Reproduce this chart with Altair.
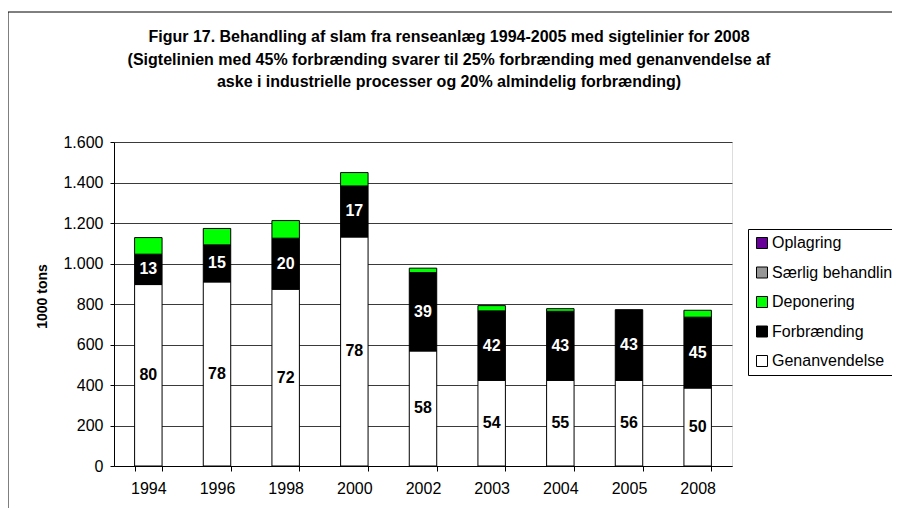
import altair as alt
import pandas as pd

# ---- data (1000 tons) ----
years = ["1994", "1996", "1998", "2000", "2002", "2003", "2004", "2005", "2008"]
genanvendelse = [896, 909, 873, 1131, 568, 423, 423, 423, 385]
forbraending = [150, 183, 252, 252, 387, 343, 341, 349, 350]
deponering = [82, 81, 87, 66, 22, 26, 13, 0, 34]
gen_pct = ["80", "78", "72", "78", "58", "54", "55", "56", "50"]
forb_pct = ["13", "15", "20", "17", "39", "42", "43", "43", "45"]

categories = ["Oplagring", "Særlig behandling", "Deponering", "Forbrænding", "Genanvendelse"]
cat_colors = ["#660099", "#969696", "#00FF00", "#000000", "#FFFFFF"]

title_lines = [
    "Figur 17. Behandling af slam fra renseanlæg 1994-2005 med sigtelinier for 2008",
    "(Sigtelinien med 45% forbrænding svarer til 25% forbrænding med genanvendelse af",
    "aske i industrielle processer og 20% almindelig forbrænding)",
]
y_ticks = [0, 200, 400, 600, 800, 1000, 1200, 1400, 1600]

# ---- tables built from the arrays ----
rows = []
for i, yr in enumerate(years):
    for cat, vals, order in [("Genanvendelse", genanvendelse, 0),
                             ("Forbrænding", forbraending, 1),
                             ("Deponering", deponering, 2)]:
        if vals[i] > 0:
            rows.append({"year": yr, "category": cat, "value": vals[i], "order": order})
bars_df = pd.DataFrame(rows)

labels_df = pd.DataFrame({"year": years, "gen": genanvendelse, "forb": forbraending,
                          "gen_pct": gen_pct, "forb_pct": forb_pct})

FONT = "Liberation Sans"

x_enc = alt.X(
    "year:N", sort=years, title=None,
    scale=alt.Scale(paddingInner=0.6, paddingOuter=0.3),
    axis=alt.Axis(labelAngle=0, tickBand="extent", labelFont=FONT, labelFontSize=16,
                  labelColor="black", domainColor="black", tickColor="black",
                  tickSize=5, labelPadding=9, grid=False),
)

y_axis = alt.Axis(
    values=y_ticks, labelExpr="replace(format(datum.value, ','), ',', '.')",
    labelFont=FONT, labelFontSize=16, labelColor="black", labelPadding=7,
    domainColor="black", tickColor="black", tickSize=4,
    grid=True, gridColor="#3a3a3a", gridWidth=1,
    title="1000 tons", titleFont=FONT, titleFontSize=14, titleFontWeight="bold",
    titleColor="black", titleX=-72, titleY=154, titleAlign="center",
    titleBaseline="middle",
)
y_scale = alt.Scale(domain=[0, 1600], nice=False)

bars = alt.Chart(bars_df).mark_bar(stroke="black", strokeWidth=1).encode(
    x=x_enc,
    y=alt.Y("value:Q", stack="zero", scale=y_scale, axis=y_axis),
    color=alt.Color(
        "category:N",
        scale=alt.Scale(domain=categories, range=cat_colors),
        legend=alt.Legend(
            orient="none", legendX=634, legendY=87, title=None,
            symbolType="square", symbolSize=121, symbolStrokeColor="black",
            symbolStrokeWidth=1, labelFont=FONT, labelFontSize=16, labelColor="black",
            rowPadding=13.5, padding=6, strokeColor="black", fillColor="white",
            labelOffset=2, labelLimit=300,
        ),
    ),
    order=alt.Order("order:Q", sort="ascending"),
)

gen_text = alt.Chart(labels_df).transform_calculate(
    mid="datum.gen / 2"
).mark_text(font=FONT, fontSize=16, fontWeight="bold", color="black",
            align="center", baseline="middle").encode(
    x=x_enc,
    y=alt.Y("mid:Q", scale=y_scale, axis=y_axis),
    text="gen_pct:N",
)

forb_text = alt.Chart(labels_df).transform_calculate(
    mid="datum.gen + datum.forb / 2"
).mark_text(font=FONT, fontSize=16, fontWeight="bold", color="white",
            align="center", baseline="middle").encode(
    x=x_enc,
    y=alt.Y("mid:Q", scale=y_scale, axis=y_axis),
    text="forb_pct:N",
)

# decorative outer chart frame (as in the reference)
frame = alt.Chart(alt.Data(values=[{}])).mark_rect(
    filled=False, stroke="black", strokeWidth=1
).encode(
    x=alt.value(-106), x2=alt.value(800), y=alt.value(-130), y2=alt.value(400)
)

chart = alt.layer(frame, bars, gen_text, forb_text).properties(
    width=618, height=324,
    padding={"left": 106, "top": 134, "right": 160, "bottom": 42},
    autosize="none",
    title=alt.Title(text=title_lines, font=FONT, fontSize=16, fontWeight="bold",
                    color="black", anchor="middle", frame="group", dx=26,
                    baseline="top", offset=0, dy=78.5, lineHeight=22.5),
).configure_view(stroke="#808080", strokeWidth=1).configure(background="white")

chart.save("out.html", embed_options={"renderer": "svg", "actions": False})
